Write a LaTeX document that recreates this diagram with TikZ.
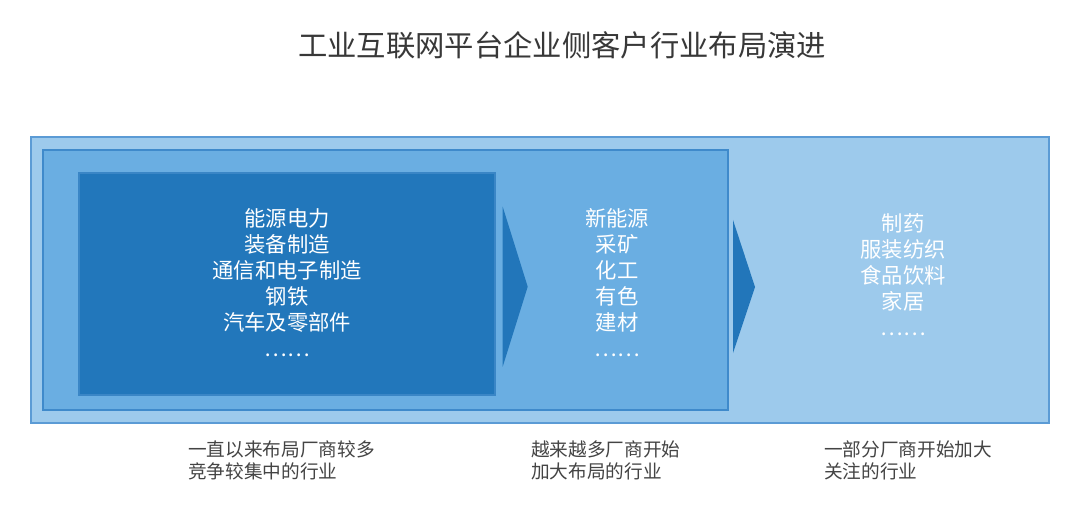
\documentclass[tikz,border=0pt]{standalone}
\usepackage{fontspec}
\setmainfont{Noto Sans CJK SC}
\definecolor{outerfill}{HTML}{9DCAEC}
\definecolor{outerline}{HTML}{5B9BD5}
\definecolor{midfill}{HTML}{6AAEE2}
\definecolor{midline}{HTML}{3F8ACB}
\definecolor{innerfill}{HTML}{2277BB}
\definecolor{innerline}{HTML}{3A86C6}
\definecolor{arrowc}{HTML}{2276BA}
\definecolor{titlec}{HTML}{383838}
\definecolor{labelc}{HTML}{444444}
\begin{document}
\begin{tikzpicture}[x=0.75pt,y=-0.75pt,
  box/.style={draw, line width=0.8pt, inner sep=0pt, rectangle},
  intext/.style={text=white, align=center, font=\fontsize{16pt}{19.5pt}\selectfont},
  lab/.style={text=labelc, align=left, anchor=north west, inner sep=0pt, font=\fontsize{14pt}{16.5pt}\selectfont},
  tip/.style={fill=arrowc}]
\useasboundingbox (0,0) rectangle (1080,520);
\fill[white] (0,0) rectangle (1080,520);
\node[text=titlec, font=\fontsize{22pt}{26pt}\selectfont] (title) at (562,45) {工业互联网平台企业侧客户行业布局演进};
\node[box, draw=outerline, fill=outerfill, minimum width=763.5pt, minimum height=214.5pt] (outer) at (540,280) {};
\node[box, draw=midline, fill=midfill, minimum width=513.75pt, minimum height=195pt] (mid) at (385.5,280) {};
\node[box, draw=innerline, fill=innerfill, minimum width=312pt, minimum height=166.5pt] (inner) at (287,284) {};
\node[intext] (t1) at (287,283) {能源电力\\装备制造\\通信和电子制造\\钢铁\\汽车及零部件\\……};
\node[intext] (t2) at (617,283) {新能源\\采矿\\化工\\有色\\建材\\……};
\node[intext] (t3) at (903,275) {制药\\服装纺织\\食品饮料\\家居\\……};
\coordinate (a1t) at (502.7,206.7);
\coordinate (a1p) at (527.7,286.7);
\coordinate (a1b) at (502.7,366.7);
\fill[tip] (a1t) -- (a1p) -- (a1b) -- cycle;
\coordinate (a2t) at (733,220);
\coordinate (a2p) at (755,287);
\coordinate (a2b) at (733,353);
\fill[tip] (a2t) -- (a2p) -- (a2b) -- cycle;
\node[lab] (l1) at (188,440) {一直以来布局厂商较多\\竞争较集中的行业};
\node[lab] (l2) at (531,440) {越来越多厂商开始\\加大布局的行业};
\node[lab] (l3) at (824,440) {一部分厂商开始加大\\关注的行业};
\end{tikzpicture}
\end{document}
